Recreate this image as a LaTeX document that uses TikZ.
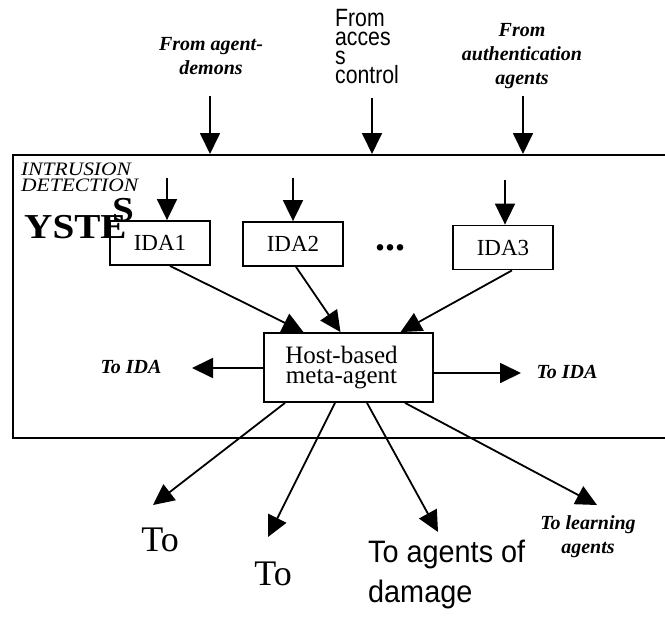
\documentclass[tikz,border=0pt]{standalone}
\usepackage{fontspec}
\setmainfont{Liberation Serif}
\newfontfamily\arialfont{Liberation Sans}
\usetikzlibrary{arrows.meta}

\tikzset{
  frameline/.style={line width=1.6pt},
  idabox/.style={draw, line width=1.8pt, minimum width=100pt, minimum height=44pt,
    inner sep=0pt, font=\fontsize{23}{24}\selectfont},
  metabox/.style={draw, line width=1.8pt, minimum width=169pt, minimum height=69pt,
    inner sep=0pt, align=center, font=\fontsize{25}{20}\selectfont},
  arr/.style={-{Triangle[length=21pt,width=20pt]}, line width=1.8pt},
  ital/.style={font=\fontsize{20}{24}\selectfont\bfseries\itshape, align=center, inner sep=0pt},
  sanslbl/.style={font=\arialfont\fontsize{25}{19}\selectfont, align=left, inner sep=0pt, xscale=0.85},
  biglbl/.style={font=\arialfont\fontsize{31}{40}\selectfont, align=left, inner sep=0pt, xscale=0.93},
  bigto/.style={font=\fontsize{36}{36}\selectfont, inner sep=0pt},
  boldcap/.style={font=\fontsize{35}{35}\selectfont\bfseries, inner sep=0pt, xscale=1.12},
}

\begin{document}
\begin{tikzpicture}[x=1pt,y=-1pt]
  \useasboundingbox (0,0) rectangle (665,621);
  \clip (0,0) rectangle (665,621);

  % system frame, open on the right
  \node[draw, frameline, minimum width=720pt, minimum height=283pt, anchor=north west, inner sep=0pt]
    (sys) at (12,154) {};

  % system title
  \node[font=\fontsize{19}{16}\selectfont\itshape, align=left, anchor=north west, inner sep=0pt, xscale=1.13]
    (title) at (21,163) {INTRUSION\\DETECTION};
  \node[boldcap, anchor=base west] (yste) at (24,238) {YSTE};
  \node[boldcap, anchor=base west] (s) at (112,221) {S};

  % incoming sources
  \node[ital] (srcA) at (211,56) {From agent-\\demons};
  \node[sanslbl, anchor=north west] (srcB) at (335,9) {From\\acces\\s\\control};
  \node[ital] (srcC) at (522,56) {From\\authentication\\agents};

  \coordinate (inA) at (210,96);
  \coordinate (inB) at (372,98);
  \coordinate (inC) at (523,96);
  \draw[arr] (inA) -- (inA |- sys.north);
  \draw[arr] (inB) -- (inB |- sys.north);
  \draw[arr] (inC) -- (inC |- sys.north);

  % detection agents
  \node[idabox] (ida1) at (160,243) {IDA1};
  \node[idabox] (ida2) at (293,244) {IDA2};
  \node[idabox] (ida3) at (503,247.5) {IDA3};
  \node[font=\fontsize{40}{40}\selectfont\bfseries, inner sep=0pt] (dots) at (390,248) {...};

  \coordinate (in1) at (167,178);
  \coordinate (in2) at (293,178);
  \coordinate (in3) at (505,180);
  \draw[arr] (in1) -- (in1 |- ida1.north);
  \draw[arr] (in2) -- (in2 |- ida2.north);
  \draw[arr] (in3) -- (in3 |- ida3.north);

  % meta-agent (text sits a little left of the box centre)
  \node[metabox] (meta) at (348.5,367.5) {Host-based\hspace*{14pt}\\meta-agent\hspace*{14pt}};

  \draw[arr] ([xshift=10pt]ida1.south) -- ([xshift=-45pt]meta.north);
  \draw[arr] ([xshift=3pt]ida2.south) -- ([xshift=-8pt]meta.north);
  \draw[arr] ([xshift=9pt]ida3.south) -- ([xshift=52pt]meta.north);

  % side outputs
  \node[ital] (toL) at (131,367) {To IDA};
  \node[ital] (toR) at (567,372) {To IDA};
  \coordinate (outL) at (192,368);
  \coordinate (outR) at (521,373);
  \draw[arr] (meta.west |- outL) -- (outL);
  \draw[arr] (meta.east |- outR) -- (outR);

  % outputs below
  \node[bigto] (to1) at (160,540) {To};
  \node[bigto] (to2) at (273,574) {To};
  \node[biglbl, anchor=base west] (to3) at (368,602) {To agents of\\damage};
  \node[ital] (to4) at (588,537) {To learning\\agents};

  \coordinate (out1) at (153,505);
  \coordinate (out2) at (268,537);
  \coordinate (out3) at (438,532);
  \coordinate (out4) at (597,505);
  \draw[arr] ([xshift=-63.5pt]meta.south) -- (out1);
  \draw[arr] ([xshift=-13.5pt]meta.south) -- (out2);
  \draw[arr] ([xshift=18.5pt]meta.south) -- (out3);
  \draw[arr] ([xshift=56.5pt]meta.south) -- (out4);
\end{tikzpicture}
\end{document}
